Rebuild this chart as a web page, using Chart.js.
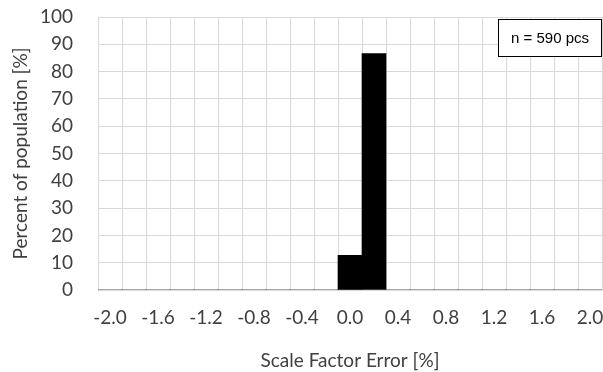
<!DOCTYPE html>
<html>
<head>
<meta charset="utf-8">
<script src="https://cdn.jsdelivr.net/npm/chart.js@4"></script>
<style>
  html, body { margin: 0; padding: 0; background: #fff; }
  #wrap { width: 603px; height: 372px; }
</style>
</head>
<body>
<div id="wrap"><canvas id="hist" width="603" height="372"></canvas></div>
<script>
// bin centres of the scale factor error, in %
const binLabels = [
    "-2.0", "-1.8", "-1.6", "-1.4", "-1.2", "-1.0", "-0.8", "-0.6", "-0.4", "-0.2",
    "0.0", "0.2", "0.4", "0.6", "0.8", "1.0", "1.2", "1.4", "1.6", "1.8", "2.0"
];
// share of parts falling in each bin, in %
const percentOfPopulation = [
    0, 0, 0, 0, 0, 0, 0, 0, 0, 0,
    12.7, 86.6, 0, 0, 0, 0, 0, 0, 0, 0, 0
];
const sampleNote = "n = 590 pcs";

const labelFont = "Lato, 'Open Sans', sans-serif";
const gridColor = "#d9d9d9";
const textColor = "#404040";

// little framed box in the top right corner of the plot
const noteBox = {
    id: "noteBox",
    afterDraw(chart) {
        const { ctx, chartArea } = chart;
        const w = 104, h = 38;
        const x = chartArea.right - w, y = chartArea.top + 2;
        ctx.save();
        ctx.fillStyle = "#fff";
        ctx.fillRect(x, y, w, h);
        ctx.strokeStyle = "#000";
        ctx.lineWidth = 1;
        ctx.strokeRect(x + 0.5, y + 0.5, w - 1, h - 1);
        ctx.fillStyle = "#000";
        ctx.font = "15px 'Liberation Sans', Arial, sans-serif";
        ctx.textAlign = "center";
        ctx.textBaseline = "middle";
        ctx.fillText(sampleNote, x + w / 2, y + h / 2 + 1);
        ctx.restore();
    }
};

const hist = new Chart(
    document.getElementById('hist'),
    {
        type: "bar",
        data: {
            labels: binLabels,
            datasets: [
                {
                    data: percentOfPopulation,
                    backgroundColor: "#000",
                    borderWidth: 0,
                    barPercentage: 1,
                    categoryPercentage: 1
                }
            ]
        },
        options: {
            responsive: false,
            animation: false,
            layout: {
                padding: { top: 17, right: 1, left: 0, bottom: 0 }
            },
            plugins: {
                legend: { display: false },
                tooltip: { enabled: false }
            },
            scales: {
                x: {
                    afterFit(scale) {
                        scale.height = 82;
                        scale.paddingLeft = 0;
                        scale.paddingRight = 0;
                    },
                    grid: {
                        color: gridColor,
                        lineWidth: 1,
                        drawTicks: false,
                        offset: true
                    },
                    border: { color: gridColor },
                    ticks: {
                        autoSkip: false,
                        maxRotation: 0,
                        padding: 16,
                        color: textColor,
                        font: { family: labelFont, size: 19 },
                        callback: (v, i) => (i % 2 === 0 ? binLabels[i] : "")
                    },
                    title: {
                        display: true,
                        text: "Scale Factor Error [%]",
                        color: textColor,
                        font: { family: labelFont, size: 19 },
                        padding: { top: 3, bottom: 0 }
                    }
                },
                y: {
                    min: 0,
                    max: 100,
                    afterFit(scale) {
                        scale.width = 98;
                        scale.paddingTop = 0;
                        scale.paddingBottom = 0;
                    },
                    grid: {
                        color: gridColor,
                        lineWidth: 1,
                        drawTicks: false
                    },
                    border: { color: gridColor },
                    ticks: {
                        autoSkip: false,
                        stepSize: 10,
                        padding: 25,
                        color: textColor,
                        font: { family: labelFont, size: 19 }
                    },
                    title: {
                        display: true,
                        text: "Percent of population [%]",
                        color: textColor,
                        font: { family: labelFont, size: 19 },
                        padding: { top: 9, bottom: 0 }
                    }
                }
            }
        },
        plugins: [noteBox]
    });
</script>
</body>
</html>
